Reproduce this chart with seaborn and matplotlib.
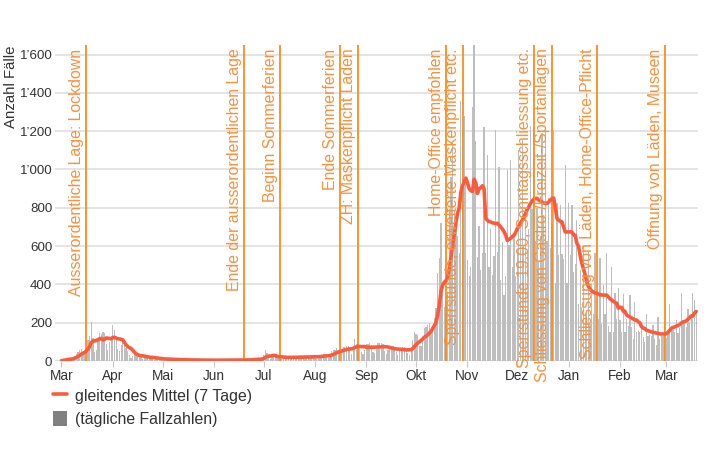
import pandas as pd
import numpy as np
import matplotlib.pyplot as plt
import matplotlib.dates as mdates
from matplotlib.lines import Line2D
from matplotlib.patches import Patch
import seaborn as sns

# Tägliche Fallzahlen, pro Monat
faelle_mar20 = [2, 4, 8, 10, 14, 18, 14, 12, 25, 38, 45, 55, 62, 43, 45, 80, 110, 130, 205, 120,
                45, 60, 110, 145, 140, 150, 145, 90, 55, 100, 130]
faelle_apr20 = [187, 160, 115, 65, 50, 85, 110, 95, 70, 50, 30, 15, 25, 40, 35, 32, 30, 19, 8, 15,
                25, 22, 22, 22, 12, 5, 9, 16, 14, 13]
faelle_mai20 = [12, 8, 3, 7, 11, 10, 10, 9, 6, 2, 5, 8, 8, 7, 8, 4, 2, 4, 7, 6,
                6, 6, 4, 1, 3, 6, 5, 5, 5, 3, 1]
faelle_jun20 = [3, 5, 6, 5, 5, 3, 2, 4, 6, 7, 6, 6, 4, 2, 3, 7, 6, 7, 6, 4,
                3, 6, 9, 10, 10, 11, 7, 5, 10, 18]
faelle_jul20 = [30, 55, 40, 17, 10, 22, 30, 32, 25, 20, 15, 8, 15, 25, 24, 25, 22, 14, 9, 16,
                26, 25, 26, 24, 14, 10, 18, 28, 27, 28, 28]
faelle_aug20 = [15, 12, 20, 32, 33, 34, 34, 17, 18, 30, 50, 55, 60, 70, 46, 30, 50, 72, 75, 80,
                80, 54, 35, 60, 115, 90, 95, 85, 45, 38, 60]
faelle_sep20 = [88, 90, 95, 85, 48, 40, 62, 92, 95, 95, 90, 51, 35, 55, 75, 80, 78, 72, 46, 30,
                50, 70, 72, 75, 68, 41, 32, 55, 110, 150]
faelle_okt20 = [140, 135, 78, 80, 120, 170, 180, 190, 200, 145, 185, 225, 275, 460, 540, 720, 367,
                283, 295, 359, 796, 960, 1140, 787, 703, 652, 562, 1360, 1201, 1280, 927]
faelle_nov20 = [528, 442, 492, 1325, 1649, 1147, 542, 703, 477, 562, 1220, 564, 1077, 493,
                689, 449, 548, 1206, 571, 1014, 423, 619, 344, 443, 996, 606, 1049, 493, 661, 442]
faelle_dez20 = [583, 1101, 711, 1154, 598, 801, 582, 688, 1227, 795, 1224, 626, 801, 519, 653,
                1192, 760, 1210, 626, 850, 589, 716, 1204, 405, 825, 556, 815, 561, 534, 1022, 405]
faelle_jan21 = [825, 556, 815, 463, 506, 735, 300, 475, 283, 598, 253, 247, 574, 195, 405, 248,
                563, 246, 219, 539, 195, 398, 248, 563, 183, 149, 490, 153, 356, 220, 380]
faelle_feb21 = [212, 150, 349, 150, 219, 185, 345, 177, 115, 307, 150, 156, 150, 200, 127, 100,
                244, 129, 135, 129, 186, 113, 86, 230, 115, 128, 129, 186]
faelle_mar21 = [120, 142, 300, 185, 163, 150, 214, 148, 170, 356, 213, 191, 178, 270, 204, 233,
                356, 320, 250]

# Massnahmen
massnahmen_daten = ['2020-03-16', '2020-06-19', '2020-07-11', '2020-08-16', '2020-08-27',
                    '2020-10-19', '2020-10-29', '2020-12-11', '2020-12-22', '2021-01-18',
                    '2021-02-28']
massnahmen_text = ['Ausserordentliche Lage: Lockdown',
                   'Ende der ausserordentlichen Lage',
                   'Beginn Sommerferien',
                   'Ende Sommerferien',
                   'ZH: Maskenpflicht Läden',
                   'Home-Office empfohlen',
                   'Sperrstunde, erweiterte Maskenpflicht etc.',
                   'Sperrstunde 19.00, Sonntagsschliessung etc.',
                   'Schliessung von Gastro-/Freizeit-/Sportanlagen',
                   'Schliessung von Läden, Home-Office-Pflicht',
                   'Öffnung von Läden, Museen']

monate = ['Mar', 'Apr', 'Mai', 'Jun', 'Jul', 'Aug', 'Sep', 'Okt', 'Nov', 'Dez', 'Jan', 'Feb', 'Mar']
y_ticks = [0, 200, 400, 600, 800, 1000, 1200, 1400, 1600]

werte = (faelle_mar20 + faelle_apr20 + faelle_mai20 + faelle_jun20 + faelle_jul20 + faelle_aug20
         + faelle_sep20 + faelle_okt20 + faelle_nov20 + faelle_dez20 + faelle_jan21 + faelle_feb21
         + faelle_mar21)
df = pd.DataFrame({'datum': pd.date_range('2020-03-01', periods=len(werte), freq='D'),
                   'faelle': werte})
# gleitendes Mittel über 7 Tage
df['mittel'] = df['faelle'].rolling(7, min_periods=1).mean()

sns.set_theme(style='white')
plt.rcParams['font.family'] = ['Liberation Sans', 'DejaVu Sans']

orange = '#ff8c1a'
rot = '#fb5b3c'
text_farbe = '#333333'

fig = plt.figure(figsize=(7.1, 4.73), dpi=100)
ax = fig.add_axes([55 / 710, 1 - 361 / 473, 643 / 710, 316 / 473])

ax.bar(df['datum'], df['faelle'], width=0.75, color='#bebebe', linewidth=0,
       edgecolor='none', zorder=2)
sns.lineplot(data=df, x='datum', y='mittel', ax=ax, color=rot, linewidth=2.6, zorder=4)

for d, t in zip(massnahmen_daten, massnahmen_text):
    xd = mdates.date2num(pd.Timestamp(d))
    ax.axvline(xd, color=orange, lw=1.3, zorder=3)
    ax.annotate(t, xy=(xd, 1), xycoords=('data', 'axes fraction'), xytext=(-1.5, -2.5),
                textcoords='offset points', rotation=90, ha='right', va='top',
                color='#f7913d', fontsize=11.4, zorder=5)

ax.set_xlim(pd.Timestamp('2020-03-01') - pd.Timedelta(days=3.9),
            pd.Timestamp('2020-03-01') + pd.Timedelta(days=384.1))
ax.set_ylim(0, 1650)

tick_daten = pd.date_range('2020-03-01', '2021-03-01', freq='MS')
ax.set_xticks(tick_daten)
ax.set_xticklabels(monate)
ax.set_yticks(y_ticks)
ax.set_yticklabels([f'{v:,}'.replace(',', '\u2019') for v in y_ticks])
ax.tick_params(axis='x', bottom=True, length=4, width=0.8, color='#c8c8c8',
               labelsize=9.8, labelcolor=text_farbe, pad=2)
ax.tick_params(axis='y', left=False, length=0, labelsize=9.6, labelcolor=text_farbe, pad=2)

ax.yaxis.grid(True, color='#dddddd', lw=1.1, zorder=0)
ax.xaxis.grid(False)
for s in ax.spines.values():
    s.set_visible(False)

ax.set_xlabel('')
ax.set_ylabel('Anzahl Fälle', loc='top', fontsize=10.8, color=text_farbe)
ax.yaxis.set_label_coords(-0.058, 1.0)

handles = [Line2D([0], [0], color=rot, lw=2.6),
           Patch(facecolor='#808080', edgecolor='none')]
fig.legend(handles, ['gleitendes Mittel (7 Tage)', '(tägliche Fallzahlen)'],
           loc='upper left', bbox_to_anchor=(53 / 710, 1 - 388 / 473), frameon=False,
           fontsize=11.4, handlelength=0.9, handleheight=1.1, handletextpad=0.5,
           labelspacing=0.42, borderpad=0, borderaxespad=0, labelcolor=text_farbe)

fig.savefig('out.png', dpi=100)
